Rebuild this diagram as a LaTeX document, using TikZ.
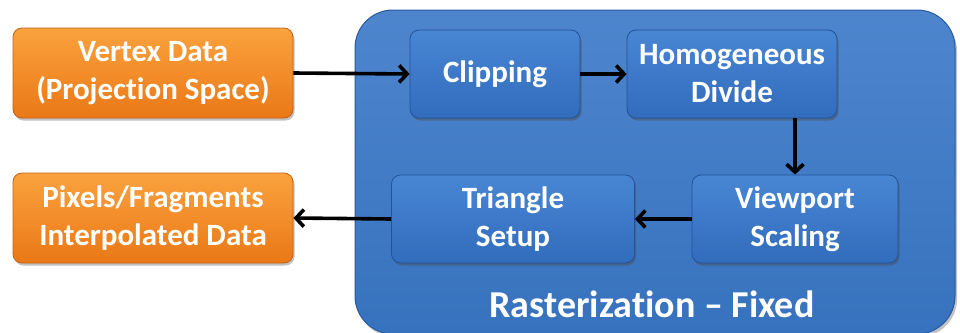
\documentclass[tikz,border=0pt]{standalone}
\usepackage{fontspec}
\setmainfont[Ligatures=NoCommon]{Carlito}
\usetikzlibrary{arrows.meta,shadows}
\definecolor{panelblue}{RGB}{58,120,200}
\definecolor{paneledge}{RGB}{40,90,160}
\definecolor{boxtop}{RGB}{72,134,212}
\definecolor{boxbot}{RGB}{50,108,188}
\definecolor{boxedge}{RGB}{36,82,150}
\definecolor{orangetop}{RGB}{250,162,62}
\definecolor{orangebot}{RGB}{234,120,22}
\definecolor{orangeedge}{RGB}{196,98,18}
\tikzset{
  every node/.style={font=\fontsize{31}{38}\selectfont\bfseries, text=white, align=center},
  stagebox/.style={rectangle, rounded corners=9pt, draw=boxedge, line width=0.8pt,
    top color=boxtop, bottom color=boxbot, inner sep=0pt,
    drop shadow={shadow xshift=1.5pt, shadow yshift=-2.5pt, opacity=0.45, fill=black!70}},
  iobox/.style={rectangle, rounded corners=9pt, draw=orangeedge, line width=0.8pt,
    top color=orangetop, bottom color=orangebot, inner sep=0pt,
    minimum width=280pt, minimum height=90pt,
    drop shadow={shadow xshift=1.5pt, shadow yshift=-2.5pt, opacity=0.35, fill=black!70}},
  flow/.style={-{Straight Barb[length=8pt,width=17pt,line width=3.6pt]}, line width=3.6pt, black}
}
\begin{document}
\begin{tikzpicture}[x=1pt,y=-1pt]
  \useasboundingbox (0,0) rectangle (960,332);
  % fixed-function rasterization stage container
  \path[rounded corners=38pt, draw=paneledge, line width=1pt,
        top color=panelblue!90!white, bottom color=panelblue!95!black,
        drop shadow={shadow xshift=2pt, shadow yshift=-3pt, opacity=0.4, fill=black!60}]
    (355,10) rectangle (955,334);
  \node (title) at (652,304) {\fontsize{38}{44}\selectfont Rasterization – Fixed};

  % inputs and outputs
  \node[iobox] (vertex) at (153,73) {Vertex Data\\(Projection Space)};
  \node[iobox] (pixels) at (153,218) {Pixels/Fragments\\Interpolated Data};

  % pipeline stages
  \node[stagebox, minimum width=170pt, minimum height=88pt] (clip) at (495,74) {Clipping};
  \node[stagebox, minimum width=210pt, minimum height=88pt] (homog) at (732,74) {Homogeneous\\Divide};
  \node[stagebox, minimum width=206pt, minimum height=88pt] (view) at (795,219) {Viewport\\Scaling};
  \node[stagebox, minimum width=243pt, minimum height=88pt] (tri) at (513,219) {Triangle\\Setup};

  % data flow
  \draw[flow] (vertex.east) -- (clip.west);
  \draw[flow] (clip.east) -- (homog.west);
  \draw[flow] (homog.south -| view.north) -- (view.north);
  \draw[flow] (view.west) -- (tri.east);
  \draw[flow] (tri.west) -- (pixels.east);
\end{tikzpicture}
\end{document}
